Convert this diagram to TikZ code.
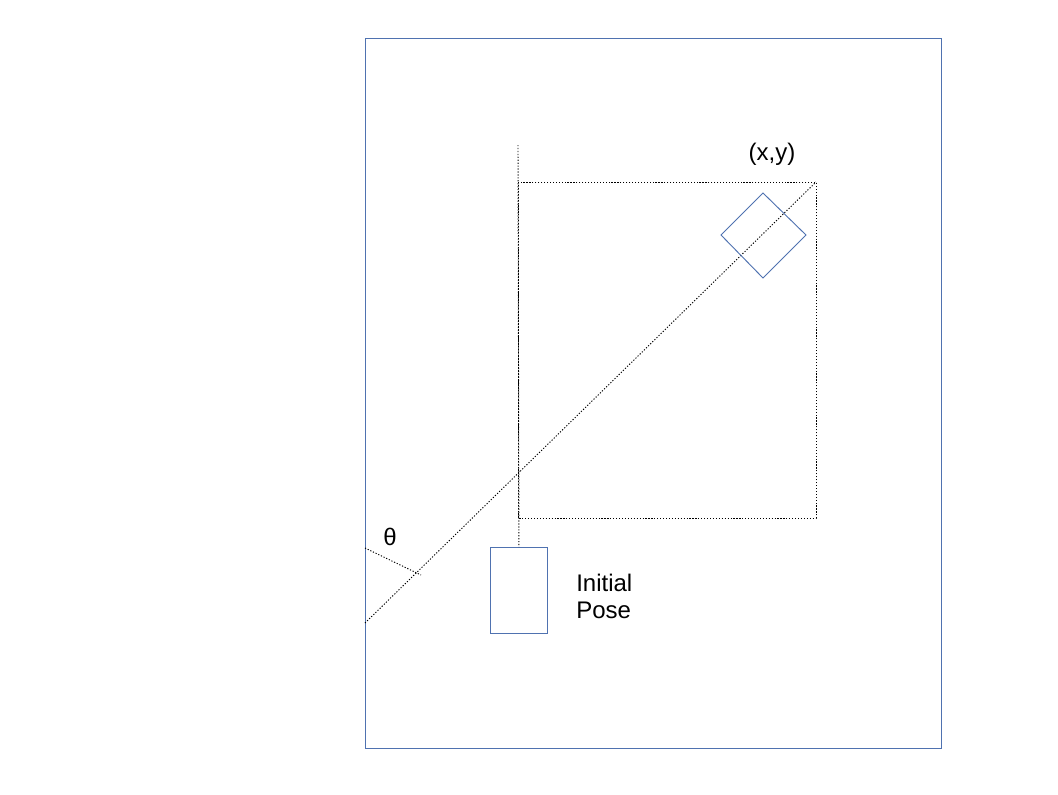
\documentclass[tikz,border=0pt]{standalone}
\usepackage{fontspec}
\setmainfont{Liberation Sans}
\definecolor{lineblue}{HTML}{4F72B0}
\begin{document}
\begin{tikzpicture}[x=0.75pt,y=-0.75pt,
  blueline/.style={draw=lineblue,line width=0.7pt},
  dotline/.style={draw=black,line width=0.7pt,dash pattern=on 0.9pt off 1.3pt},
  lbl/.style={font=\fontsize{18}{20}\selectfont,inner sep=0pt}]
\useasboundingbox (0,0) rectangle (1058,794);
% outer frame
\draw[draw=lineblue,line width=0.6pt] (365,38) rectangle (941,748);
% coordinates
\coordinate (vtop) at (518,145);
\coordinate (diagA) at (365,623);
\coordinate (diagB) at (816,182);
\coordinate (thA) at (365,548);
\coordinate (thB) at (421,575);
% dotted rectangle
\draw[dotline] (518,182) rectangle (816,518);
% pose box
\node[blueline,draw,minimum width=57*0.75pt,minimum height=86*0.75pt,inner sep=0pt,anchor=north west] (pose) at (490,547) {};
% vertical dotted line
\draw[dotline] (vtop) -- (pose.north);
% diagonal
\draw[dotline] (diagA) -- (diagB);
% theta line
\draw[dotline] (thA) -- (thB);
% diamond
\draw[blueline] (763,193) -- (806,235) -- (763,278) -- (721,235) -- cycle;
% labels
\node[lbl] (xy) at (772,154) {(x,y)};
\node[lbl] (theta) at (390,537) {θ};
\node[lbl,anchor=north west,align=left] (posel) at (576,574) {Initial\\Pose};
\end{tikzpicture}
\end{document}
